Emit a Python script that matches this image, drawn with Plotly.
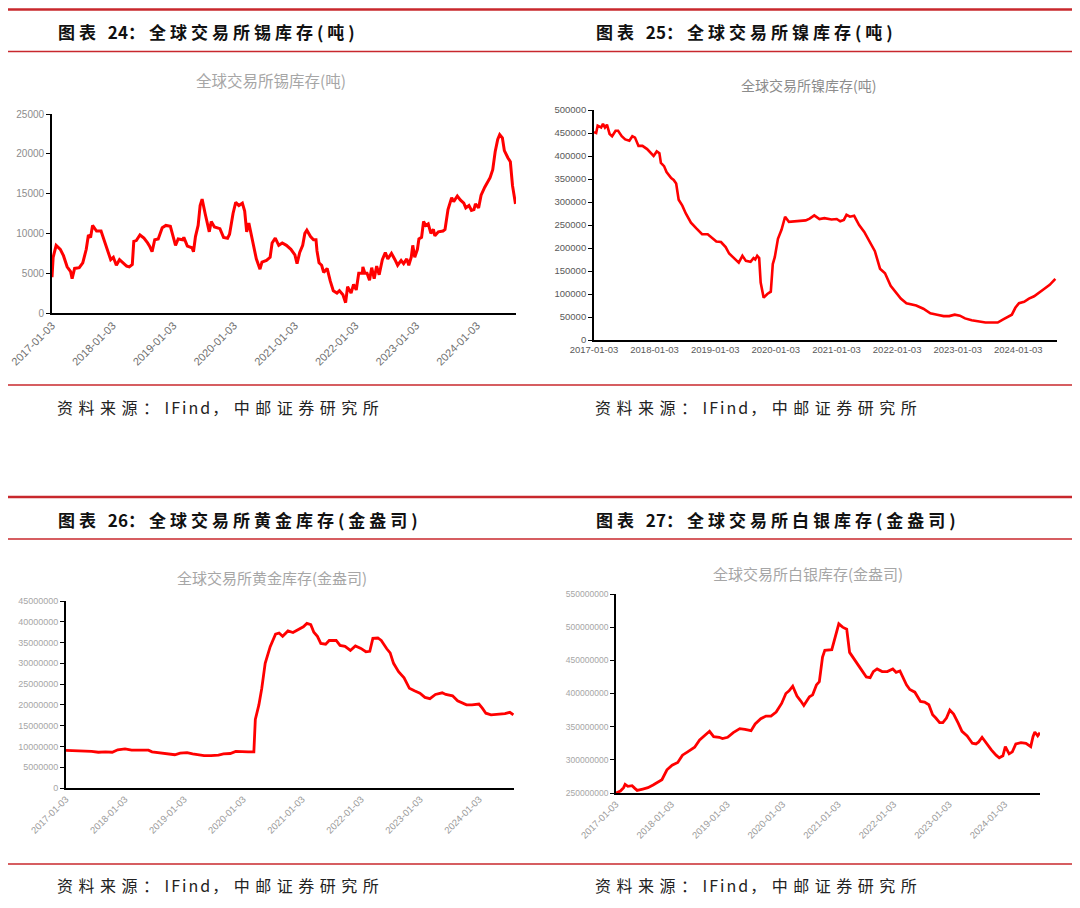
import plotly.graph_objects as go

# ---------------- data ----------------
tick_dates = ["2017-01-03", "2018-01-03", "2019-01-03", "2020-01-03",
              "2021-01-03", "2022-01-03", "2023-01-03", "2024-01-03"]

tin_dates = ["2017-01-03","2017-01-10","2017-01-28","2017-02-22","2017-03-13","2017-04-04","2017-04-25","2017-05-04",
 "2017-05-19","2017-06-16","2017-07-07","2017-07-28","2017-08-10","2017-08-23","2017-09-04","2017-09-28","2017-10-25",
 "2017-11-19","2017-12-07","2017-12-22","2018-01-07","2018-01-25","2018-02-13","2018-03-07","2018-03-28","2018-04-13",
 "2018-05-01","2018-05-10","2018-05-25","2018-06-16","2018-07-10","2018-08-01","2018-08-13","2018-08-28","2018-09-13",
 "2018-10-04","2018-10-28","2018-11-19","2018-12-16","2019-01-03","2019-01-16","2019-02-01","2019-02-28","2019-03-07",
 "2019-03-28","2019-04-25","2019-05-04","2019-05-16","2019-06-01","2019-06-13","2019-06-25","2019-07-13","2019-07-28",
 "2019-08-07","2019-08-19","2019-09-07","2019-10-10","2019-11-01","2019-11-25","2019-12-07","2019-12-28","2020-01-13",
 "2020-02-01","2020-02-22","2020-03-07","2020-03-19","2020-04-01","2020-04-25","2020-05-16","2020-06-07","2020-06-19",
 "2020-07-16","2020-08-07","2020-08-19","2020-09-07","2020-09-28","2020-10-19","2020-11-13","2020-12-10","2021-01-03",
 "2021-01-16","2021-02-01","2021-02-19","2021-03-04","2021-03-16","2021-04-07","2021-04-25","2021-05-10","2021-05-16",
 "2021-05-28","2021-06-13","2021-06-25","2021-07-16","2021-08-04","2021-08-22","2021-09-13","2021-09-28","2021-10-19",
 "2021-11-04","2021-11-16","2021-12-07","2021-12-22","2022-01-07","2022-01-22","2022-02-13","2022-02-16","2022-02-28",
 "2022-03-13","2022-03-28","2022-04-10","2022-04-25","2022-05-10","2022-05-25","2022-06-13","2022-07-01","2022-07-16",
 "2022-08-07","2022-08-28","2022-09-13","2022-10-04","2022-10-19","2022-11-07","2022-11-19","2022-12-04","2022-12-13",
 "2022-12-25","2023-01-10","2023-01-19","2023-02-04","2023-02-16","2023-03-01","2023-03-16","2023-04-01","2023-04-16",
 "2023-04-25","2023-05-16","2023-06-13","2023-06-25","2023-07-13","2023-08-04","2023-08-16","2023-09-07","2023-09-25",
 "2023-10-16","2023-10-28","2023-11-16","2023-12-01","2023-12-16","2023-12-25","2024-01-13","2024-01-28","2024-02-19",
 "2024-03-04","2024-03-22","2024-04-07","2024-04-22","2024-05-07","2024-05-19","2024-06-04","2024-06-16","2024-07-07",
 "2024-07-22","2024-08-04","2024-08-13","2024-08-22"]
tin_values = [4500,7000,8500,8000,7200,5800,5200,4300,
 5600,5700,6300,8000,9800,9500,11000,10300,10300,
 8800,7800,6700,7000,6000,6700,6300,5900,5800,
 6100,9000,9100,9800,9400,8800,8400,7700,9200,
 9300,10700,11000,10900,9500,8500,9300,9200,9500,
 8400,8200,7700,9600,11000,13500,14300,12500,11200,
 10200,11500,10800,10600,9500,9400,9900,12500,13900,
 13500,13800,12800,10200,11300,9000,6800,5500,6400,
 6600,7000,8800,9400,8500,8800,8500,8000,7300,
 6200,7600,8500,10000,10400,9600,9200,9200,7800,
 6300,6000,5100,5600,4000,2800,2500,2800,2300,
 1300,3300,2500,3600,2900,5000,5000,5800,5000,
 5000,4100,5700,4300,5900,4800,6700,7600,6800,
 7500,6700,6000,6600,6200,6800,6000,7000,8500,
 7000,8000,9300,9500,11500,11000,11200,10000,10500,
 9700,10200,10300,10500,13000,14500,14000,14700,14200,
 13800,13200,13500,12900,13000,13700,13200,14800,15800,
 16300,17000,18000,20300,21800,22400,22000,20400,19500,
 19000,16000,14500,13700]

ni_dates = ["2017-01-03","2017-01-16","2017-01-25","2017-02-15","2017-02-26","2017-03-10","2017-03-22","2017-04-07",
 "2017-04-22","2017-05-13","2017-05-28","2017-06-19","2017-07-10","2017-08-04","2017-08-22","2017-09-07","2017-09-28",
 "2017-10-22","2017-11-19","2017-12-07","2017-12-28","2018-01-16","2018-02-01","2018-02-10","2018-03-01","2018-03-16",
 "2018-04-13","2018-04-28","2018-05-13","2018-05-28","2018-06-19","2018-07-10","2018-08-10","2018-09-13","2018-10-16",
 "2018-11-19","2018-12-16","2019-01-10","2019-02-07","2019-03-07","2019-03-28","2019-04-28","2019-05-25","2019-06-16",
 "2019-07-07","2019-08-04","2019-08-22","2019-09-01","2019-09-13","2019-09-25","2019-10-04","2019-10-22","2019-11-13",
 "2019-12-04","2019-12-16","2019-12-28","2020-01-16","2020-02-07","2020-02-28","2020-03-22","2020-04-28","2020-05-28",
 "2020-07-01","2020-07-25","2020-08-22","2020-09-22","2020-10-22","2020-12-04","2021-01-04","2021-01-25","2021-02-16",
 "2021-03-04","2021-03-25","2021-04-19","2021-05-19","2021-06-19","2021-07-22","2021-08-22","2021-09-22","2021-10-22",
 "2021-11-25","2021-12-25","2022-01-25","2022-02-28","2022-03-28","2022-04-28","2022-06-10","2022-07-22","2022-09-01",
 "2022-10-10","2022-11-13","2022-12-16","2023-01-16","2023-02-16","2023-03-28","2023-05-10","2023-06-19","2023-08-01",
 "2023-09-01","2023-10-04","2023-11-04","2023-11-25","2023-12-16","2024-01-07","2024-02-07","2024-03-07","2024-04-07",
 "2024-05-10","2024-06-10","2024-07-10","2024-08-13"]
ni_values = [452000,450000,466000,462000,470000,462000,468000,448000,
 443000,455000,455000,443000,436000,433000,443000,440000,422000,
 422000,415000,408000,400000,410000,406000,385000,378000,365000,
 352000,348000,340000,305000,292000,275000,255000,242000,230000,
 230000,222000,214000,213000,202000,188000,178000,168000,183000,
 172000,170000,178000,175000,183000,178000,125000,92000,100000,
 105000,165000,180000,220000,240000,268000,257000,258000,260000,
 260000,264000,271000,263000,265000,262000,263000,258000,261000,
 272000,268000,270000,250000,235000,212000,193000,155000,145000,
 118000,105000,90000,80000,78000,75000,68000,58000,55000,
 52000,52000,55000,53000,47000,43000,40000,38000,38000,
 38000,45000,50000,55000,70000,80000,83000,90000,95000,
 103000,112000,120000,133000]

au_dates = ["2017-01-03","2017-03-16","2017-04-28","2017-06-10","2017-07-22","2017-09-04","2017-10-16","2017-11-19",
 "2018-01-03","2018-02-13","2018-04-07","2018-05-28","2018-06-19","2018-08-04","2018-09-25","2018-11-07","2018-12-10",
 "2019-01-22","2019-02-25","2019-04-07","2019-05-07","2019-06-19","2019-08-04","2019-09-04","2019-10-16","2019-11-19",
 "2019-12-19","2020-02-04","2020-03-10","2020-03-19","2020-04-10","2020-04-28","2020-05-19","2020-06-19","2020-07-22",
 "2020-08-13","2020-09-04","2020-10-07","2020-11-07","2020-12-10","2021-01-10","2021-02-01","2021-02-25","2021-03-16",
 "2021-04-07","2021-04-28","2021-05-28","2021-06-19","2021-08-01","2021-08-25","2021-09-25","2021-10-28","2021-11-28",
 "2022-01-01","2022-02-01","2022-02-25","2022-03-16","2022-04-16","2022-05-07","2022-06-10","2022-07-01","2022-07-22",
 "2022-08-22","2022-09-25","2022-10-28","2022-11-28","2023-01-01","2023-02-01","2023-03-04","2023-04-07","2023-05-19",
 "2023-06-10","2023-07-22","2023-08-22","2023-09-25","2023-10-16","2023-11-19","2024-01-01","2024-01-22","2024-02-13",
 "2024-03-16","2024-04-28","2024-06-10","2024-07-10","2024-08-01"]
au_values_m = [9.05,9.0,9.0,8.8,8.6,8.7,8.6,9.2,
 9.4,9.1,9.1,9.1,8.7,8.5,8.2,8.0,8.4,
 8.5,8.2,8.0,7.8,7.8,7.9,8.2,8.3,8.8,
 8.7,8.7,8.7,16.5,20.0,24.0,30.0,34.0,37.0,
 37.3,36.5,37.8,37.4,38.2,38.8,39.6,39.3,37.5,
 36.5,34.8,34.6,35.5,35.5,34.3,34.1,33.1,34.2,
 33.6,32.8,32.9,36.0,36.1,35.5,33.5,32.5,30.0,
 28.0,26.5,24.0,23.4,22.8,21.8,21.5,22.5,22.9,
 22.5,22.2,21.0,20.5,20.0,20.0,20.2,19.2,18.0,
 17.6,17.7,17.9,18.2,17.6]  # million troy ounces

ag_dates = ["2017-01-03","2017-02-01","2017-02-22","2017-03-04","2017-03-22","2017-04-19","2017-05-07","2017-05-22",
 "2017-06-28","2017-08-01","2017-09-04","2017-10-07","2017-11-01","2017-12-04","2018-01-07","2018-02-13","2018-03-16",
 "2018-04-19","2018-06-04","2018-07-07","2018-08-13","2018-09-10","2018-10-07","2018-11-13","2018-12-04","2019-01-07",
 "2019-02-13","2019-03-28","2019-05-01","2019-06-10","2019-07-07","2019-08-13","2019-09-16","2019-10-19","2019-11-22",
 "2019-12-28","2020-01-25","2020-02-15","2020-03-10","2020-04-07","2020-05-01","2020-05-22","2020-06-28","2020-07-19",
 "2020-08-13","2020-09-01","2020-09-22","2020-10-07","2020-11-22","2020-12-16","2021-01-07","2021-02-01","2021-02-28",
 "2021-03-19","2021-04-16","2021-05-13","2021-06-04","2021-07-07","2021-08-01","2021-08-22","2021-09-16","2021-10-19",
 "2021-11-22","2021-12-28","2022-01-19","2022-02-13","2022-03-04","2022-03-28","2022-04-19","2022-05-22","2022-06-28",
 "2022-07-25","2022-08-22","2022-09-16","2022-10-07","2022-11-01","2022-11-22","2022-12-16","2023-01-07","2023-02-01",
 "2023-03-04","2023-03-28","2023-05-01","2023-06-04","2023-06-28","2023-07-16","2023-08-07","2023-09-04","2023-10-07",
 "2023-11-07","2023-11-28","2023-12-22","2024-01-07","2024-02-01","2024-02-22","2024-03-16","2024-04-19","2024-05-22",
 "2024-06-22","2024-07-07","2024-07-19","2024-08-07","2024-08-22"]
ag_values_m = [250,253,258,263,260,261,257,254,
 256,258,262,266,270,285,292,296,307,
 312,319,330,337,343,335,334,332,334,
 341,347,346,344,354,362,366,366,372,
 385,400,404,411,396,389,382,395,398,
 413,418,455,465,466,485,505,500,497,
 462,452,444,436,425,424,433,437,433,
 433,437,432,434,425,413,406,402,388,
 387,383,368,363,356,356,363,375,369,
 355,343,336,325,324,327,334,325,315,
 307,303,306,320,309,312,324,326,325,
 320,335,342,336,341]  # million troy ounces

header_nums = ["24", "25", "26", "27"]
header_names = ["全球交易所锡库存(吨)", "全球交易所镍库存(吨)",
                "全球交易所黄金库存(金盎司)", "全球交易所白银库存(金盎司)"]
titles = ["全球交易所锡库存(吨)", "全球交易所镍库存(吨)",
          "全球交易所黄金库存(金盎司)", "全球交易所白银库存(金盎司)"]
source_parts = ["资料来源：", "IFind", "，中邮证券研究所"]

# ---------------- figure ----------------
W, H = 1080, 908
OFF = 8  # page body margin in the browser
def px(x):
    return (x - OFF) / W
def py(y):
    return 1 - (y - OFF) / H

RED = "#ff0000"
RULE = "#c8282d"
CJK = "Noto Sans CJK SC"
NUM = "Liberation Sans, Arial"

fig = go.Figure()
fig.add_trace(go.Scatter(x=tin_dates, y=tin_values, mode="lines",
                         line=dict(color=RED, width=3), xaxis="x", yaxis="y", hoverinfo="skip"))
fig.add_trace(go.Scatter(x=ni_dates, y=ni_values, mode="lines",
                         line=dict(color=RED, width=2.6), xaxis="x2", yaxis="y2", hoverinfo="skip"))
fig.add_trace(go.Scatter(x=au_dates, y=[v * 1e6 for v in au_values_m], mode="lines",
                         line=dict(color=RED, width=2.8), xaxis="x3", yaxis="y3", hoverinfo="skip"))
fig.add_trace(go.Scatter(x=ag_dates, y=[v * 1e6 for v in ag_values_m], mode="lines",
                         line=dict(color=RED, width=2.8), xaxis="x4", yaxis="y4", hoverinfo="skip"))

def xaxis(dom, end, angle, color, size, anchor):
    return dict(domain=dom, type="date", range=["2017-01-03", end], anchor=anchor,
                tickmode="array", tickvals=tick_dates, ticktext=tick_dates, tickangle=angle,
                tickfont=dict(family=NUM, size=size, color=color),
                showline=True, linecolor="#000000", linewidth=1.8, ticks="",
                showgrid=False, zeroline=False, fixedrange=True, automargin=False)

def yaxis(dom, rng, dtick, color, size, anchor):
    return dict(domain=dom, range=rng, dtick=dtick, tick0=rng[0], tickformat="d",
                tickfont=dict(family=NUM, size=size, color=color),
                showline=True, linecolor="#000000", linewidth=1.8,
                ticks="outside", ticklen=4, tickcolor="#000000", tickwidth=1,
                showgrid=False, zeroline=False, anchor=anchor, fixedrange=True,
                automargin=False)

fig.update_layout(
    template=None,
    width=W, height=H, margin=dict(l=0, r=0, t=0, b=0, pad=0, autoexpand=False),
    paper_bgcolor="white", plot_bgcolor="white", showlegend=False,
    xaxis=xaxis([px(52), px(516)], "2024-08-25", -45, "#707070", 11, "y"),
    yaxis=yaxis([py(313), py(114)], [0, 25000], 5000, "#8c8c8c", 10, "x"),
    xaxis2=xaxis([px(594), px(1057)], "2024-08-23", 0, "#595959", 9.5, "y2"),
    yaxis2=yaxis([py(340), py(110)], [0, 500000], 50000, "#595959", 9.5, "x2"),
    xaxis3=xaxis([px(66), px(514)], "2024-08-05", -45, "#9a9a9a", 9.5, "y3"),
    yaxis3=yaxis([py(788), py(601)], [0, 45000000], 5000000, "#a6a6a6", 9, "x3"),
    xaxis4=xaxis([px(616), px(1040)], "2024-08-22", -45, "#9a9a9a", 9.5, "y4"),
    yaxis4=yaxis([py(793), py(594)], [250000000, 550000000], 50000000, "#a6a6a6", 8.5, "x4"),
)

# horizontal rules
rules = [(9.5, 2.6), (51.5, 1.5), (385, 1.5), (497, 2.6), (539, 1.5), (864, 1.5)]
for yy, w in rules:
    fig.add_shape(type="line", xref="paper", yref="paper", x0=px(8), x1=px(1078),
                  y0=py(yy), y1=py(yy), line=dict(color=RULE, width=w))

def spaced(text, sp):
    return '<span style="letter-spacing:%.1fpx">%s</span>' % (sp, text)

ann = []
for (x0, y0), num, name in zip([(56, 31), (594, 31), (56, 519), (594, 519)], header_nums, header_names):
    txt = spaced("图表 ", 4) + spaced(num, 0) + spaced("：" + name, 4)
    ann.append(dict(x=px(x0), y=py(y0), xref="paper", yref="paper", xanchor="left", yanchor="middle",
                    text="<b>" + txt + "</b>", showarrow=False,
                    font=dict(family=CJK, size=17, color="#111111")))
src_txt = spaced(source_parts[0], 5.5) + spaced(source_parts[1], 2) + spaced(source_parts[2], 5.5)
for (x0, y0) in [(55, 407), (593, 407), (55, 885), (593, 885)]:
    ann.append(dict(x=px(x0), y=py(y0), xref="paper", yref="paper", xanchor="left", yanchor="middle",
                    text=src_txt, showarrow=False,
                    font=dict(family=CJK, size=16, color="#222222")))
for (x0, y0, sz, col), t in zip([(271, 80, 15.5, "#a6a6a6"), (808, 85, 14, "#8c8c8c"),
                                 (272, 577, 15, "#a6a6a6"), (808, 573, 15, "#a6a6a6")], titles):
    ann.append(dict(x=px(x0), y=py(y0), xref="paper", yref="paper", xanchor="center", yanchor="middle",
                    text=t, showarrow=False, font=dict(family=CJK, size=sz, color=col)))
fig.update_layout(annotations=ann)

fig.write_html("out.html")
